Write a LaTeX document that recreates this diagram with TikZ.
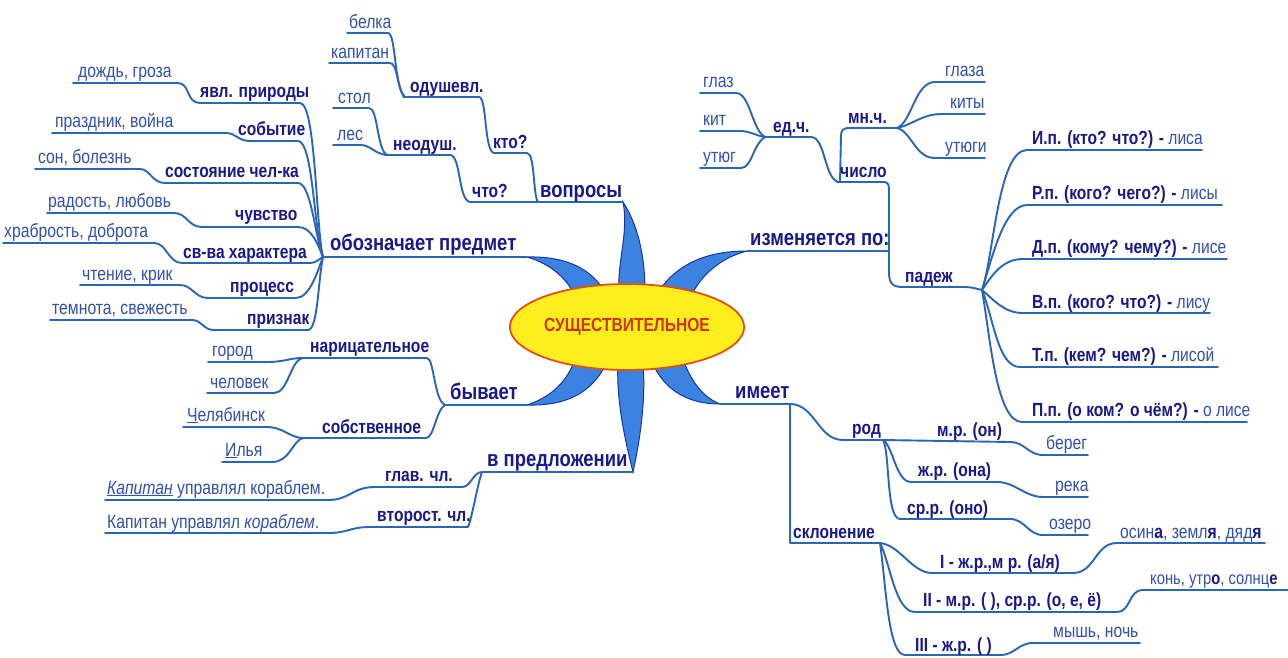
\documentclass[tikz,border=0pt]{standalone}
\usepackage{fontspec}
\setmainfont[FakeStretch=0.82]{Liberation Sans}
\usetikzlibrary{shapes.geometric}
\definecolor{lineblue}{RGB}{42,102,182}
\definecolor{navy}{RGB}{25,25,140}
\definecolor{wordblue}{RGB}{50,80,175}
\definecolor{petal}{RGB}{60,130,225}
\definecolor{petaledge}{RGB}{25,55,160}
\definecolor{ellfill}{RGB}{255,238,30}
\definecolor{elledge}{RGB}{225,80,20}
\definecolor{elltext}{RGB}{205,55,20}
\begin{document}
\begin{tikzpicture}[x=1pt,y=-1pt,
 ln/.style={draw=lineblue,line width=1.9pt,line cap=round,line join=round},
 mainlbl/.style={inner sep=0pt,anchor=base west,text=navy,font=\fontsize{22.5}{24}\selectfont\bfseries},
 sublbl/.style={inner sep=0pt,anchor=base west,text=navy,font=\fontsize{19}{21}\selectfont\bfseries},
 wordlbl/.style={inner sep=0pt,anchor=base west,text=wordblue,font=\fontsize{19.2}{21}\selectfont},
 petalshape/.style={fill=petal,draw=petaledge,line width=1pt}]
\fill[white] (0,0) rectangle (1288,657);
\useasboundingbox (0,0) rectangle (1288,657);
% petals
\path[petalshape] (623,202) .. controls (629,232) and (617,262) .. (619,292) -- (645,292) .. controls (645,262) and (640,228) .. (623,202) -- cycle;
\path[petalshape] (527,257) .. controls (565,256) and (592,268) .. (606,294) -- (574,294) .. controls (565,276) and (548,263) .. (527,257) -- cycle;
\path[petalshape] (747,251) .. controls (705,251) and (675,265) .. (657,294) -- (692,294) .. controls (702,275) and (720,258) .. (747,251) -- cycle;
\path[petalshape] (527,405) .. controls (565,406) and (592,394) .. (607,362) -- (574,362) .. controls (565,385) and (548,398) .. (527,405) -- cycle;
\path[petalshape] (720,404) .. controls (690,404) and (665,392) .. (652,362) -- (684,362) .. controls (693,385) and (705,398) .. (720,404) -- cycle;
\path[petalshape] (618,362) .. controls (616,400) and (625,440) .. (633,472) .. controls (640,440) and (646,400) .. (643,362) -- cycle;
\node (noun) [ellipse,draw=elledge,fill=ellfill,line width=1.8pt,minimum width=178pt,minimum height=86pt,inner sep=0pt,text=elltext,font=\fontsize{19}{20}\selectfont\bfseries] at (627,327) {СУЩЕСТВИТЕЛЬНОЕ};

% ---- обозначает предмет
\coordinate (fL) at (323,257);
\coordinate (tipL) at (527,257);
\draw[ln] (fL) -- (tipL);
\draw[ln] (73,83) -- (178,83) .. controls (190,83) and (186,103) .. (200,103) -- (300,103) .. controls (316,103) and (316,230) .. (fL);
\draw[ln] (52,133) -- (226,133) .. controls (236,133) and (238,141) .. (250,141) -- (298,141) .. controls (313,141) and (314,232) .. (fL);
\draw[ln] (35,169) -- (140,169) .. controls (150,169) and (152,183) .. (165,183) -- (298,183) .. controls (311,183) and (315,236) .. (fL);
\draw[ln] (47,213) -- (174,213) .. controls (187,213) and (188,227) .. (202,227) -- (298,227) .. controls (312,227) and (318,245) .. (fL);
\draw[ln] (3,243) -- (154,243) .. controls (167,243) and (168,263) .. (182,263) -- (310,263) .. controls (316,263) and (319,259) .. (fL);
\draw[ln] (80,285) -- (180,285) .. controls (192,285) and (195,298) .. (208,298) -- (296,298) .. controls (310,298) and (318,270) .. (fL);
\draw[ln] (50,320) -- (192,320) .. controls (202,320) and (203,330) .. (214,330) -- (308,330) .. controls (318,330) and (318,280) .. (fL);
\node[mainlbl] (oboz) at (330,250) {обозначает предмет};
\node[sublbl] (yavl) at (200,97) {явл. природы};
\node[wordlbl] (dozhd) at (78,77) {дождь, гроза};
\node[sublbl] (sob) at (238,135) {событие};
\node[wordlbl] (prazd) at (55,127) {праздник, война};
\node[sublbl] (sost) at (165,177) {состояние чел-ка};
\node[wordlbl] (son) at (38,163) {сон, болезнь};
\node[sublbl] (chuv) at (235,220) {чувство};
\node[wordlbl] (rad) at (48,207) {радость, любовь};
\node[sublbl] (svva) at (183,258) {св-ва характера};
\node[wordlbl] (hrab) at (4,237) {храбрость, доброта};
\node[sublbl] (proc) at (230,292) {процесс};
\node[wordlbl] (cht) at (82,280) {чтение, крик};
\node[sublbl] (priz) at (247,324) {признак};
\node[wordlbl] (temn) at (52,314) {темнота, свежесть};

% ---- вопросы
\coordinate (tipT) at (623,202);
\draw[ln] (385,155) -- (450,155) .. controls (461,155) and (458,200) .. (470,202) -- (tipT);
\draw[ln] (403,97) -- (479,97) .. controls (487,97) and (484,151) .. (494,153) -- (527,153) .. controls (535,153) and (533,196) .. (538,202);
\draw[ln] (347,33) -- (388,33) .. controls (396,33) and (394,88) .. (405,97);
\draw[ln] (329,63) -- (390,63) .. controls (398,63) and (397,91) .. (405,97);
\draw[ln] (333,108) -- (369,108) .. controls (378,108) and (377,150) .. (387,155);
\draw[ln] (333,145) -- (361,145) .. controls (370,145) and (375,154) .. (387,155);
\node[mainlbl] (vopr) at (540,197) {вопросы};
\node[sublbl] (chto) at (472,197) {что?};
\node[sublbl] (kto) at (493,148) {кто?};
\node[sublbl] (odush) at (410,92) {одушевл.};
\node[sublbl] (neod) at (393,150) {неодуш.};
\node[wordlbl] (belka) at (349,28) {белка};
\node[wordlbl] (kap) at (331,58) {капитан};
\node[wordlbl] (stol) at (338,103) {стол};
\node[wordlbl] (les) at (337,140) {лес};

% ---- изменяется по
\coordinate (tipR) at (747,251);
\coordinate (fCase) at (982,290);
\coordinate (fEd) at (765,137);
\coordinate (fMn) at (897,128);
\draw[ln] (tipR) -- (889,251);
\draw[ln] (837,182) -- (884,182) .. controls (889,182) and (889,186) .. (889,192) -- (889,272) .. controls (889,284) and (893,287) .. (903,287) -- (965,287) .. controls (972,287) and (977,289) .. (fCase);
\draw[ln] (fEd) -- (811,137) .. controls (826,137) and (824,182) .. (840,182);
\draw[ln] (840,182) -- (841,136) .. controls (841,130) and (843,128) .. (850,128) -- (fMn);
\draw[ln] (700,93) -- (736,93) .. controls (750,93) and (752,130) .. (fEd);
\draw[ln] (700,131) -- (742,131) .. controls (752,132) and (757,136) .. (fEd);
\draw[ln] (700,168) -- (741,168) .. controls (752,168) and (753,144) .. (fEd);
\draw[ln] (fMn) .. controls (912,122) and (915,82) .. (935,82) -- (985,82);
\draw[ln] (fMn) .. controls (912,125) and (922,114) .. (942,114) -- (985,114);
\draw[ln] (fMn) .. controls (912,132) and (915,158) .. (935,158) -- (985,158);
\draw[ln] (fCase) .. controls (994,255) and (998,150) .. (1027,150) -- (1202,150);
\draw[ln] (fCase) .. controls (992,258) and (1004,205) .. (1027,205) -- (1222,205);
\draw[ln] (fCase) .. controls (994,272) and (1004,259) .. (1023,259) -- (1227,259);
\draw[ln] (fCase) .. controls (994,300) and (1004,313) .. (1023,313) -- (1210,313);
\draw[ln] (fCase) .. controls (994,320) and (998,367) .. (1020,367) -- (1218,367);
\draw[ln] (fCase) .. controls (990,335) and (996,422) .. (1022,422) -- (1247,422);
\node[mainlbl] (izm) at (750,245) {изменяется по:};
\node[sublbl] (chislo) at (840,177) {число};
\node[sublbl] (ed) at (773,132) {ед.ч.};
\node[sublbl] (mn) at (848,123) {мн.ч.};
\node[wordlbl] (glaz) at (703,87) {глаз};
\node[wordlbl] (kit) at (703,125) {кит};
\node[wordlbl] (utyug) at (703,162) {утюг};
\node[wordlbl] (glaza) at (945,76) {глаза};
\node[wordlbl] (kity) at (950,108) {киты};
\node[wordlbl] (utyugi) at (945,152) {утюги};
\node[sublbl] (padezh) at (905,282) {падеж};
\node[sublbl] (ip) at (1032,144) {И.п. (кто? что?) - \textcolor{wordblue}{\mdseries лиса}};
\node[sublbl] (rp) at (1032,199) {Р.п. (кого? чего?) - \textcolor{wordblue}{\mdseries лисы}};
\node[sublbl] (dp) at (1032,253) {Д.п. (кому? чему?) - \textcolor{wordblue}{\mdseries лисе}};
\node[sublbl] (vp) at (1032,308) {В.п. (кого? что?) - \textcolor{wordblue}{\mdseries лису}};
\node[sublbl] (tp) at (1032,361) {Т.п. (кем? чем?) - \textcolor{wordblue}{\mdseries лисой}};
\node[sublbl] (pp) at (1032,416) {П.п. (о ком? о чём?) - \textcolor{wordblue}{\mdseries о лисе}};

% ---- имеет
\coordinate (tipBR) at (720,404);
\coordinate (fRod) at (883,440);
\coordinate (fSkl) at (880,543);
\draw[ln] (tipBR) -- (790,404) -- (790,543) -- (fSkl);
\draw[ln] (790,404) .. controls (815,404) and (818,440) .. (843,440) -- (fRod);
\draw[ln] (fRod) -- (1010,442) .. controls (1025,442) and (1028,455) .. (1043,455) -- (1088,455);
\draw[ln] (fRod) .. controls (893,446) and (896,482) .. (911,482) -- (997,482) .. controls (1015,482) and (1025,497) .. (1043,497) -- (1088,497);
\draw[ln] (fRod) .. controls (890,452) and (886,519) .. (900,519) -- (1010,519) .. controls (1025,519) and (1028,535) .. (1043,535) -- (1088,535);
\draw[ln] (fSkl) .. controls (900,545) and (912,573) .. (932,573) -- (1073,573) .. controls (1095,573) and (1095,543) .. (1117,543) -- (1265,543);
\draw[ln] (fSkl) .. controls (890,562) and (895,612) .. (915,612) -- (1117,612) .. controls (1131,612) and (1128,590) .. (1143,590) -- (1288,590);
\draw[ln] (fSkl) .. controls (886,585) and (888,655) .. (905,655) -- (1000,655) .. controls (1015,655) and (1018,643) .. (1033,643) -- (1140,643);
\node[mainlbl] (imeet) at (735,398) {имеет};
\node[sublbl] (rod) at (852,434) {род};
\node[sublbl] (mr) at (937,436) {м.р. (он)};
\node[wordlbl] (bereg) at (1046,449) {берег};
\node[sublbl] (zhr) at (918,476) {ж.р. (она)};
\node[wordlbl] (reka) at (1055,491) {река};
\node[sublbl] (srr) at (907,514) {ср.р. (оно)};
\node[wordlbl] (ozero) at (1049,529) {озеро};
\node[sublbl] (skl) at (793,538) {склонение};
\node[sublbl] (d1) at (940,568) {I - ж.р.,м р. (а/я)};
\node[wordlbl] (ex1) at (1120,538) {осин\textbf{\textcolor{navy}{а}}, земл\textbf{\textcolor{navy}{я}}, дяд\textbf{\textcolor{navy}{я}}};
\node[sublbl] (d2) at (923,606) {II - м.р. ( ), ср.р. (о, е, ё)};
\node[wordlbl,font=\fontsize{18}{20}\selectfont] (ex2) at (1150,584) {конь, утр\textbf{\textcolor{navy}{о}}, солнц\textbf{\textcolor{navy}{е}}};
\node[sublbl] (d3) at (915,651) {III - ж.р. ( )};
\node[wordlbl] (ex3) at (1053,637) {мышь, ночь};

% ---- бывает
\coordinate (tipBL) at (527,405);
\coordinate (fByv) at (445,405);
\coordinate (fNar) at (302,358);
\coordinate (fSob) at (303,438);
\draw[ln] (fByv) -- (tipBL);
\draw[ln] (fNar) -- (427,358) .. controls (434,358) and (434,400) .. (fByv);
\draw[ln] (fSob) -- (426,438) .. controls (434,438) and (436,410) .. (fByv);
\draw[ln] (208,362) -- (267,362) .. controls (284,362) and (290,358) .. (fNar);
\draw[ln] (207,393) -- (274,393) .. controls (288,393) and (290,362) .. (fNar);
\draw[ln] (183,427) -- (266,427) .. controls (284,427) and (290,438) .. (fSob);
\draw[ln] (222,462) -- (272,462) .. controls (290,462) and (292,441) .. (fSob);
\node[mainlbl] (byv) at (450,399) {бывает};
\node[sublbl] (nar) at (310,352) {нарицательное};
\node[sublbl] (sobs) at (322,433) {собственное};
\node[wordlbl] (gorod) at (212,356) {город};
\node[wordlbl] (chel) at (210,388) {человек};
\node[wordlbl] (chelyab) at (187,421) {\underline{Ч}елябинск};
\node[wordlbl] (ilya) at (225,456) {\underline{И}лья};

% ---- в предложении
\coordinate (tipB) at (633,472);
\coordinate (fPred) at (482,472);
\draw[ln] (fPred) -- (tipB);
\draw[ln] (105,500) -- (328,500) .. controls (350,500) and (352,487) .. (375,487) -- (462,487) .. controls (471,487) and (473,472) .. (fPred);
\draw[ln] (105,533) -- (328,533) .. controls (348,533) and (350,527) .. (370,527) -- (468,527) .. controls (472,518) and (478,482) .. (fPred);
\node[mainlbl] (vpred) at (487,466) {в предложении};
\node[sublbl] (glav) at (385,481) {глав. чл.};
\node[sublbl] (vtor) at (377,521) {второст. чл.};
\node[wordlbl] (s1) at (107,494) {\underline{\textit{Капитан}} управлял кораблем.};
\node[wordlbl] (s2) at (107,528) {Капитан управлял \underline{\textit{кораблем}}.};
\end{tikzpicture}
\end{document}
